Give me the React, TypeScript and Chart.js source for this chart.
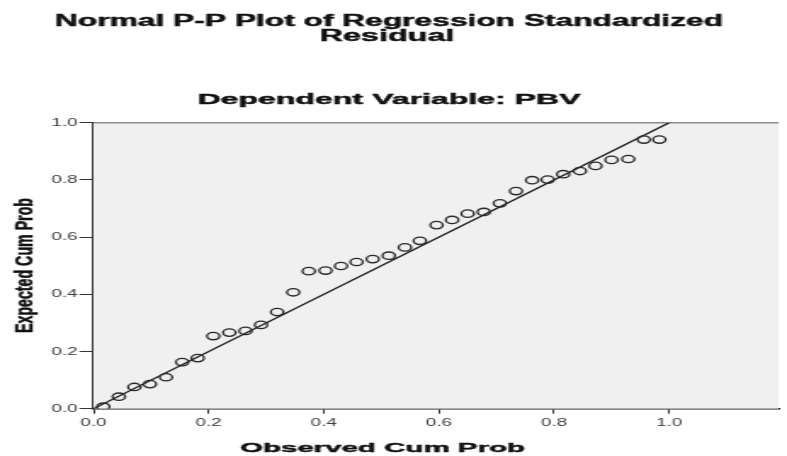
import React, { useEffect, useRef } from 'react';
import { Chart, registerables } from 'chart.js';

Chart.register(...registerables);

// ---- data ----
const observedCumProb = [
  0.017, 0.044, 0.071, 0.098, 0.126, 0.154, 0.181, 0.208, 0.236, 0.264, 0.291, 0.319,
  0.347, 0.374, 0.403, 0.430, 0.457, 0.485, 0.513, 0.541, 0.567, 0.596, 0.623, 0.650,
  0.678, 0.706, 0.734, 0.762, 0.789, 0.816, 0.845, 0.872, 0.900, 0.929, 0.956, 0.983,
];
const expectedCumProb = [
  0.007, 0.042, 0.076, 0.086, 0.110, 0.163, 0.177, 0.254, 0.266, 0.272, 0.293, 0.338,
  0.407, 0.481, 0.483, 0.499, 0.513, 0.523, 0.535, 0.564, 0.587, 0.642, 0.660, 0.682,
  0.688, 0.718, 0.761, 0.799, 0.801, 0.820, 0.831, 0.849, 0.870, 0.873, 0.941, 0.941,
];
const referenceLine = [0, 1];
const tickValues = [0, 0.2, 0.4, 0.6, 0.8, 1.0];
const titleLines = ['Normal P-P Plot of Regression Standardized', 'Residual'];
const subtitle = 'Dependent Variable: PBV';
const xTitle = 'Observed Cum Prob';
const yTitle = 'Expected Cum Prob';

// ---- layout ----
const DISPLAY_W = 787;
const DISPLAY_H = 456;
const CANVAS_W = 463; // drawn narrow, displayed stretched like the original
const S = DISPLAY_W / CANVAS_W;
const FONT_FAMILY = '"Liberation Sans", Arial, sans-serif';

function drawFittedText(
  ctx: CanvasRenderingContext2D,
  text: string,
  cxDisp: number,
  baseline: number,
  font: string,
  targetDispWidth: number
) {
  ctx.save();
  ctx.font = font;
  const w = ctx.measureText(text).width;
  const k = targetDispWidth / S / w;
  ctx.translate(cxDisp / S, baseline);
  ctx.scale(k, 1);
  ctx.textAlign = 'center';
  ctx.textBaseline = 'alphabetic';
  ctx.fillStyle = '#111';
  ctx.strokeStyle = '#111';
  ctx.lineWidth = 0.45;
  ctx.fillText(text, 0, 0);
  ctx.strokeText(text, 0, 0);
  ctx.restore();
}

const decorPlugin = {
  id: 'decor',
  beforeDatasetsDraw(chart: any) {
    const { ctx, chartArea } = chart;
    ctx.save();
    ctx.fillStyle = '#f0f0f0';
    ctx.fillRect(chartArea.left, chartArea.top, chartArea.right - chartArea.left, chartArea.bottom - chartArea.top);
    ctx.strokeStyle = '#8c8c8c';
    ctx.lineWidth = 1.6;
    ctx.beginPath();
    ctx.moveTo(chartArea.left, chartArea.top);
    ctx.lineTo(chartArea.right, chartArea.top);
    ctx.stroke();
    ctx.restore();
  },
  afterDraw(chart: any) {
    const ctx: CanvasRenderingContext2D = chart.ctx;
    drawFittedText(ctx, titleLines[0], 389, 26, `bold 16px ${FONT_FAMILY}`, 668);
    drawFittedText(ctx, titleLines[1], 387, 40.5, `bold 16px ${FONT_FAMILY}`, 135);
    drawFittedText(ctx, subtitle, 389, 103.5, `bold 15px ${FONT_FAMILY}`, 383);
    drawFittedText(ctx, xTitle, 382.5, 451.5, `bold 13.5px ${FONT_FAMILY}`, 285);
    // rotated y title
    ctx.save();
    ctx.font = `bold 14px ${FONT_FAMILY}`;
    const w = ctx.measureText(yTitle).width;
    const k = 135 / w;
    ctx.translate(33 / S, 265.5);
    ctx.rotate(-Math.PI / 2);
    ctx.scale(k, 1);
    ctx.textAlign = 'center';
    ctx.textBaseline = 'alphabetic';
    ctx.fillStyle = '#111';
    ctx.strokeStyle = '#111';
    ctx.lineWidth = 0.4;
    ctx.fillText(yTitle, 0, 0);
    ctx.strokeText(yTitle, 0, 0);
    ctx.restore();
  },
};

export default function App() {
  const canvasRef = useRef<HTMLCanvasElement | null>(null);

  useEffect(() => {
    const canvas = canvasRef.current;
    if (!canvas) return;
    const tickFont = { family: FONT_FAMILY, size: 11 };
    const chart = new Chart(canvas, {
      type: 'scatter',
      data: {
        datasets: [
          {
            type: 'line',
            data: referenceLine.map((v) => ({ x: v, y: v })),
            borderColor: '#111',
            borderWidth: 1.2,
            pointRadius: 0,
            fill: false,
            order: 2,
          } as any,
          {
            data: observedCumProb.map((x, i) => ({ x, y: expectedCumProb[i] })),
            pointStyle: 'circle',
            pointRadius: 3.7,
            pointHoverRadius: 3.7,
            borderWidth: 1.3,
            borderColor: '#2a2a2a',
            backgroundColor: 'rgba(0,0,0,0)',
            order: 1,
          },
        ],
      },
      options: {
        responsive: false,
        animation: false,
        devicePixelRatio: 1,
        events: [],
        layout: { padding: { top: 122.7, left: 0, right: 0, bottom: 0 } },
        plugins: {
          legend: { display: false },
          title: { display: false },
          tooltip: { enabled: false },
        },
        scales: {
          x: {
            type: 'linear',
            min: 0,
            max: 1.19,
            afterFit: (s: any) => {
              s.height = DISPLAY_H - 408.7;
            },
            afterBuildTicks: (s: any) => {
              s.ticks = tickValues.map((v) => ({ value: v }));
            },
            ticks: {
              callback: (v: any) => Number(v).toFixed(1),
              font: tickFont,
              color: '#3a3a3a',
              padding: 3,
              maxRotation: 0,
              autoSkip: false,
            },
            grid: { drawOnChartArea: false, drawTicks: true, tickLength: 5, color: '#333', lineWidth: 1 },
            border: { display: true, color: '#111', width: 1.5 },
          },
          y: {
            type: 'linear',
            min: 0,
            max: 1,
            afterFit: (s: any) => {
              s.width = 93.5 / S;
            },
            afterBuildTicks: (s: any) => {
              s.ticks = tickValues.map((v) => ({ value: v }));
            },
            ticks: {
              callback: (v: any) => Number(v).toFixed(1),
              font: tickFont,
              color: '#3a3a3a',
              padding: 1.2,
              autoSkip: false,
            },
            grid: { drawOnChartArea: false, drawTicks: true, tickLength: 8.2, color: '#333', lineWidth: 1 },
            border: { display: true, color: '#333', width: 1.2 },
          },
        },
      },
      plugins: [decorPlugin],
    } as any);
    return () => chart.destroy();
  }, []);

  return (
    <div style={{ position: 'absolute', left: 0, top: 0, width: DISPLAY_W, height: DISPLAY_H, background: '#fff' }}>
      <canvas
        ref={canvasRef}
        width={CANVAS_W}
        height={DISPLAY_H}
        style={{ width: `${DISPLAY_W}px`, height: `${DISPLAY_H}px`, display: 'block' }}
      />
    </div>
  );
}
